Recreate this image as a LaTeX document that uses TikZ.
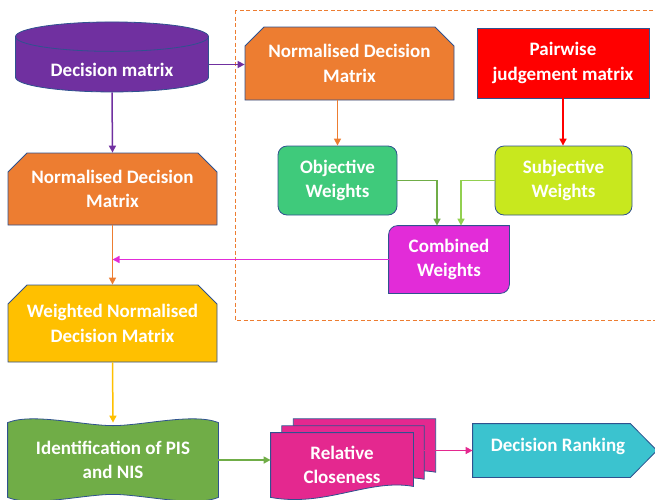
\documentclass[tikz,border=0pt]{standalone}
\usepackage{fontspec}
\setmainfont{Carlito}
\usetikzlibrary{shapes.geometric,shapes.misc,arrows.meta,backgrounds}
\definecolor{edgecol}{HTML}{2F528F}
\definecolor{dmcol}{HTML}{7030A0}
\definecolor{orng}{HTML}{ED7D31}
\definecolor{gold}{HTML}{FFC000}
\definecolor{grn}{HTML}{70AD47}
\definecolor{lgrn}{HTML}{92D050}
\definecolor{objcol}{HTML}{3FCA7B}
\definecolor{subcol}{HTML}{C8E81E}
\definecolor{mag}{HTML}{E22CD8}
\definecolor{pnk}{HTML}{E4288F}
\definecolor{tealcol}{HTML}{3BC3CF}
\begin{document}
\begin{tikzpicture}[x=1pt,y=-1pt,
	box/.style={draw=edgecol,line width=0.8pt,text=white,font=\fontsize{19}{24.5}\selectfont\bfseries,align=center,inner sep=0pt},
	chamf/.style={box,chamfered rectangle,chamfered rectangle corners={north west,north east},chamfered rectangle xsep=9pt,chamfered rectangle ysep=10pt},
	docbox/.style={minimum width=142pt,minimum height=64pt,inner sep=0pt},
	outline/.style={draw=edgecol,line width=0.8pt},
	link/.style={line width=1.5pt,-{Triangle[length=7pt,width=7pt]}}]
	\useasboundingbox (0,0) rectangle (655,499);
	\draw[orng,line width=0.8pt,dash pattern=on 4pt off 2.5pt] (235,10) rectangle (680,320);
	\node[box,cylinder,shape border rotate=90,aspect=0.24,fill=dmcol,minimum width=193pt,minimum height=70pt,text height=24pt,text depth=0pt] (dm) at (112,64.5) {Decision matrix};
	\node[chamf,fill=orng,minimum width=209pt,minimum height=72pt] (ndml) at (112.5,189) {Normalised Decision\\Matrix};
	\node[chamf,fill=gold,minimum width=209pt,minimum height=77pt] (wndm) at (112.5,323.5) {Weighted Normalised\\Decision Matrix};
	\node[box,draw=none,minimum width=210pt,minimum height=74pt] (pis) at (113,460) {Identification of PIS\\and NIS};
	\node[chamf,fill=orng,minimum width=209pt,minimum height=73pt] (ndmr) at (349.5,63.5) {Normalised Decision\\Matrix};
	\node[box,fill=red,minimum width=172pt,minimum height=70pt] (pjm) at (563,63) {Pairwise\\judgement matrix};
	\node[box,rounded corners=9pt,fill=objcol,minimum width=119pt,minimum height=69pt] (ow) at (337.5,180.5) {Objective\\Weights};
	\node[box,rounded corners=9pt,fill=subcol,minimum width=137pt,minimum height=69pt] (sw) at (563.5,180.5) {Subjective\\Weights};
	\node[box,draw=none,minimum width=120pt,minimum height=67pt] (cw) at (449,259.5) {Combined\\Weights};
	\node[docbox] (rc3) at (364.5,451) {};
	\node[docbox] (rc2) at (353,458) {};
	\node[box,docbox,draw=none] (rc) at (342,465) {Relative\\Closeness};
	\node[box,draw=none,minimum width=170pt,minimum height=53pt,text depth=12pt] (dr) at (558,450.5) {Decision Ranking};
	\begin{scope}[on background layer]
		\filldraw[outline,fill=grn] (pis.north west) .. controls +(25pt,10pt) and +(-30pt,0pt) .. ([yshift=-3pt]pis.north) .. controls +(30pt,0pt) and +(-25pt,10pt) .. (pis.north east) -- (pis.south east) .. controls +(-25pt,-10pt) and +(30pt,0pt) .. ([yshift=3pt]pis.south) .. controls +(-30pt,0pt) and +(25pt,-10pt) .. (pis.south west) -- cycle;
		\filldraw[outline,fill=mag] ([xshift=9pt]cw.north west) -- (cw.north east) -- ([yshift=9pt]cw.south east) arc[start angle=0,end angle=-90,radius=9pt] -- (cw.south west) -- ([yshift=-9pt]cw.north west) arc[start angle=180,end angle=90,radius=9pt] -- cycle;
		\filldraw[outline,fill=pnk] (rc3.north west) -- (rc3.north east) -- ([yshift=11pt]rc3.south east) .. controls +(-45pt,8pt) and +(55pt,-10pt) .. (rc3.south west) -- cycle;
		\filldraw[outline,fill=pnk] (rc2.north west) -- (rc2.north east) -- ([yshift=11pt]rc2.south east) .. controls +(-45pt,8pt) and +(55pt,-10pt) .. (rc2.south west) -- cycle;
		\filldraw[outline,fill=pnk] (rc.north west) -- (rc.north east) -- ([yshift=11pt]rc.south east) .. controls +(-45pt,8pt) and +(55pt,-10pt) .. (rc.south west) -- cycle;
		\filldraw[outline,fill=tealcol] (dr.north west) -- ([xshift=-13pt]dr.north east) -- ([xshift=13.5pt]dr.east) -- ([xshift=-13pt]dr.south east) -- (dr.south west) -- cycle;
	\end{scope}
	\draw[link,dmcol] (dm.south) -- (ndml.north);
	\draw[link,dmcol] (dm.east) -- (dm.east -| ndmr.west);
	\draw[link,orng] (ndml.south) -- (wndm.north);
	\draw[link,mag] (cw.west) -- (cw.west -| ndml.south);
	\draw[link,gold] (wndm.south) -- (pis.north);
	\draw[link,grn] (pis.east) -- (pis.east -| rc.west);
	\draw[link,orng] (ndmr.south -| ow.north) -- (ow.north);
	\draw[link,red] (pjm.south) -- (pjm.south |- sw.north);
	\draw[link,grn] (ow.east) -| ([xshift=-12pt]cw.north);
	\draw[link,lgrn] (sw.west) -| ([xshift=12pt]cw.north);
	\draw[link,pnk] (rc2.east |- dr.west) -- (dr.west);
\end{tikzpicture}
\end{document}
